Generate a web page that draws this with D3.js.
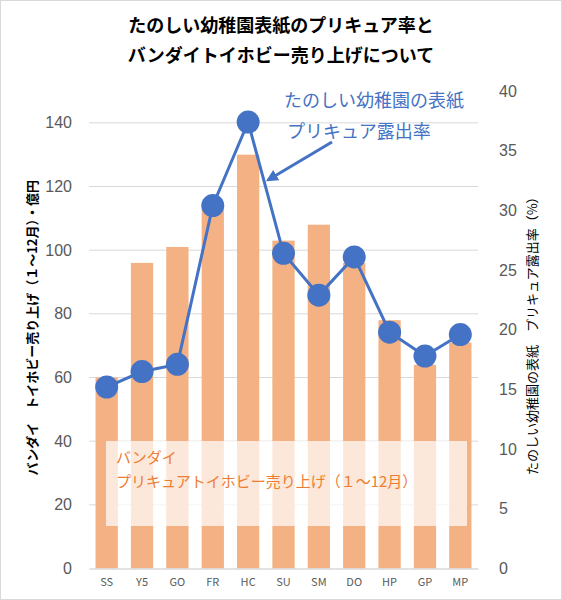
<!DOCTYPE html>
<html>
<head>
<meta charset="utf-8">
<script src="https://cdn.jsdelivr.net/npm/d3@7"></script>
<style>
  body { margin: 0; background: #fff; }
  text { font-family: "Noto Sans CJK JP", "Noto Sans", sans-serif; }
</style>
</head>
<body>
<div id="chart"></div>
<script>
// Data
var categories = ["SS", "Y5", "GO", "FR", "HC", "SU", "SM", "DO", "HP", "GP", "MP"];
var salesValues = [60, 96, 101, 113, 130, 103, 108, 96, 78, 64, 71];       // 億円 (left axis)
var coverRates = [15.2, 16.5, 17.1, 30.4, 37.4, 26.4, 22.9, 26.1, 19.8, 17.8, 19.6]; // % (right axis)
var leftTicks = [0, 20, 40, 60, 80, 100, 120, 140];
var rightTicks = [0, 5, 10, 15, 20, 25, 30, 35, 40];

var svgWidth = 562;
var svgHeight = 600;

var margin = { top: 91, bottom: 31.5, left: 89, right: 84 };
var width = svgWidth - margin.left - margin.right;
var height = svgHeight - margin.top - margin.bottom;

var svg = d3.select("#chart")
    .append("svg")
    .attr("width", svgWidth)
    .attr("height", svgHeight);

// Outer border
svg.append("rect")
    .attr("x", 0.5).attr("y", 0.5)
    .attr("width", svgWidth - 1).attr("height", svgHeight - 1)
    .attr("fill", "#fff")
    .attr("stroke", "#d9d9d9");

// Title
var title = svg.append("text")
    .attr("text-anchor", "middle")
    .attr("font-size", 18)
    .attr("font-weight", "bold")
    .attr("fill", "#000");
title.append("tspan").attr("x", svgWidth / 2).attr("y", 32).text("たのしい幼稚園表紙のプリキュア率と");
title.append("tspan").attr("x", svgWidth / 2).attr("y", 62).text("バンダイトイホビー売り上げについて");

var chartGroup = svg.append("g")
    .attr("transform", `translate(${margin.left}, ${margin.top})`);

// Scales
var xScale = d3.scaleBand()
    .domain(categories)
    .range([0, width])
    .paddingInner(0.37)
    .paddingOuter(0.185);

var yLeft = d3.scaleLinear().domain([0, 150]).range([height, 0]);
var yRight = d3.scaleLinear().domain([0, 40]).range([height, 0]);

// Gridlines
chartGroup.append("g")
    .selectAll("line")
    .data(leftTicks.slice(1))
    .enter()
    .append("line")
    .attr("x1", 0).attr("x2", width)
    .attr("y1", d => yLeft(d)).attr("y2", d => yLeft(d))
    .attr("stroke", "#d9d9d9")
    .attr("stroke-width", 1);

// Left axis
var leftAxis = d3.axisLeft(yLeft).tickValues(leftTicks).tickSize(0).tickPadding(17);
var gLeft = chartGroup.append("g").call(leftAxis);
gLeft.select(".domain").remove();
gLeft.selectAll("text")
    .attr("font-size", 16)
    .attr("fill", "#595959")
    .style("font-family", "'Liberation Sans', sans-serif");

// Right axis
var rightAxis = d3.axisRight(yRight).tickValues(rightTicks).tickSize(0).tickPadding(21);
var gRight = chartGroup.append("g")
    .attr("transform", `translate(${width}, 0)`)
    .call(rightAxis);
gRight.select(".domain").remove();
gRight.selectAll("text")
    .attr("font-size", 16)
    .attr("fill", "#595959")
    .style("font-family", "'Liberation Sans', sans-serif");

// Bars
chartGroup.append("g")
    .selectAll("rect")
    .data(salesValues)
    .enter()
    .append("rect")
    .attr("x", (d, i) => xScale(categories[i]))
    .attr("y", d => yLeft(d))
    .attr("width", xScale.bandwidth())
    .attr("height", d => height - yLeft(d))
    .attr("fill", "#f4b183");

// X axis
var bottomAxis = d3.axisBottom(xScale).tickSize(0).tickPadding(10);
var gBottom = chartGroup.append("g")
    .attr("transform", `translate(0, ${height})`)
    .call(bottomAxis);
gBottom.select(".domain").attr("stroke", "#d9d9d9").attr("stroke-width", 1.5);
gBottom.selectAll("text")
    .attr("font-size", 11)
    .attr("fill", "#595959");

// Label box for bars (semi-transparent)
chartGroup.append("rect")
    .attr("x", 106 - margin.left)
    .attr("y", 441 - margin.top)
    .attr("width", 361)
    .attr("height", 85)
    .attr("fill", "#fff")
    .attr("opacity", 0.7);

var barLabel = chartGroup.append("text")
    .attr("font-size", 15)
    .attr("fill", "#ed7d31");
barLabel.append("tspan").attr("x", 116 - margin.left).attr("y", 463 - margin.top).text("バンダイ");
barLabel.append("tspan").attr("x", 116 - margin.left).attr("y", 487 - margin.top).text("プリキュアトイホビー売り上げ（１～12月）");

// Line
var line = d3.line()
    .x((d, i) => xScale(categories[i]) + xScale.bandwidth() / 2)
    .y(d => yRight(d));

chartGroup.append("path")
    .datum(coverRates)
    .attr("d", line)
    .attr("fill", "none")
    .attr("stroke", "#4472c4")
    .attr("stroke-width", 3);

chartGroup.append("g")
    .selectAll("circle")
    .data(coverRates)
    .enter()
    .append("circle")
    .attr("cx", (d, i) => xScale(categories[i]) + xScale.bandwidth() / 2)
    .attr("cy", d => yRight(d))
    .attr("r", 11.5)
    .attr("fill", "#4472c4");

// Line annotation
var lineLabel = svg.append("text")
    .attr("font-size", 18)
    .attr("fill", "#4472c4");
lineLabel.append("tspan").attr("x", 284).attr("y", 107).text("たのしい幼稚園の表紙");
lineLabel.append("tspan").attr("x", 287).attr("y", 138).text("プリキュア露出率");

svg.append("defs").append("marker")
    .attr("id", "arrow")
    .attr("viewBox", "0 0 10 10")
    .attr("refX", 8).attr("refY", 5)
    .attr("markerWidth", 4).attr("markerHeight", 4)
    .attr("orient", "auto")
    .append("path")
    .attr("d", "M0,0 L10,5 L0,10 Z")
    .attr("fill", "#4472c4");

svg.append("line")
    .attr("x1", 332).attr("y1", 142)
    .attr("x2", 268).attr("y2", 180)
    .attr("stroke", "#4472c4")
    .attr("stroke-width", 3)
    .attr("marker-end", "url(#arrow)");

// Axis titles
svg.append("text")
    .attr("transform", `translate(37, ${margin.top + height / 2 - 2}) rotate(-90)`)
    .attr("text-anchor", "middle")
    .attr("font-size", 13)
    .attr("font-weight", "bold")
    .attr("fill", "#000")
    .text("バンダイ　トイホビー売り上げ（１～12月）・億円");

svg.append("text")
    .attr("transform", `translate(537, ${margin.top + height / 2 + 3}) rotate(-90)`)
    .attr("text-anchor", "middle")
    .attr("font-size", 13)
    .attr("fill", "#000")
    .text("たのしい幼稚園の表紙　プリキュア露出率（%）");
</script>
</body>
</html>
